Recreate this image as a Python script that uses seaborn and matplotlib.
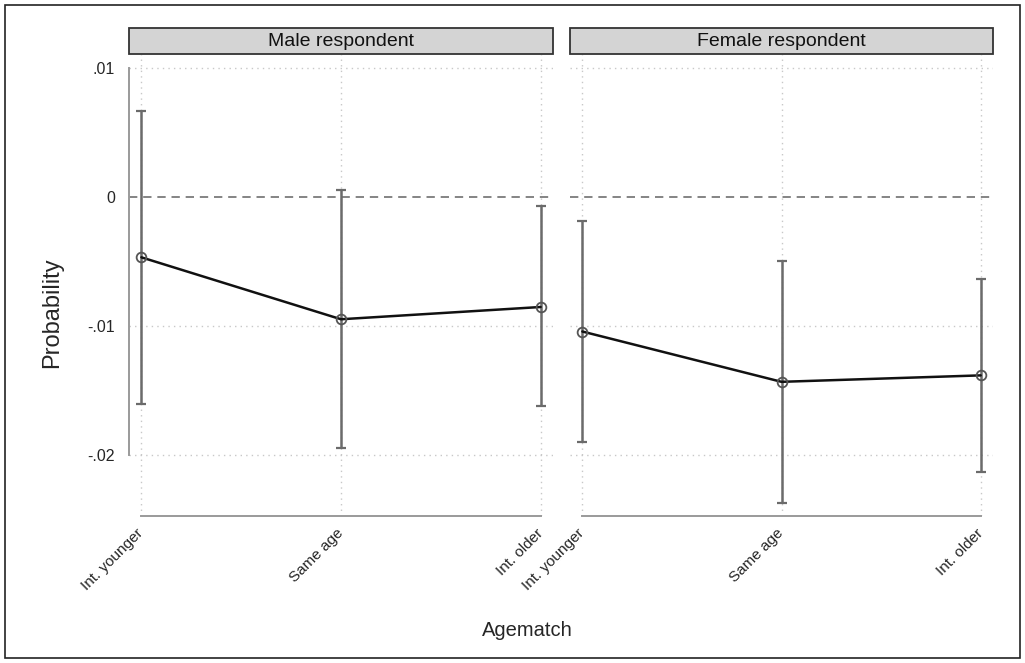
import numpy as np
import pandas as pd
import seaborn as sns
import matplotlib.pyplot as plt
from matplotlib.patches import Rectangle

# values (marginsplot style)
categories = ["Int. younger", "Same age", "Int. older"]
panels = ["Male respondent", "Female respondent"]

male_est = [-0.00465, -0.00945, -0.0085]
male_lo = [-0.0160, -0.0194, -0.0162]
male_hi = [0.0067, 0.0006, -0.0007]

female_est = [-0.0104, -0.0143, -0.0138]
female_lo = [-0.0190, -0.0237, -0.0213]
female_hi = [-0.0018, -0.0049, -0.0063]

yticks = [0.01, 0.0, -0.01, -0.02]
ytick_labels = [".01", "0", "-.01", "-.02"]

rows = []
for panel, est, lo, hi in [(panels[0], male_est, male_lo, male_hi),
                           (panels[1], female_est, female_lo, female_hi)]:
    for i, cat in enumerate(categories):
        rows.append({"panel": panel, "agematch": cat, "pos": i,
                     "est": est[i], "lo": lo[i], "hi": hi[i]})
df = pd.DataFrame(rows)

sns.set_style("white")
plt.rcParams["font.family"] = ["Liberation Sans", "DejaVu Sans"]

W, H = 1025, 663
fig = plt.figure(figsize=(W / 100, H / 100), dpi=100)

# outer frame round the whole graph
fig.patches.append(Rectangle((5 / W, 5 / H), 1015 / W, 653 / H, transform=fig.transFigure,
                             fill=False, edgecolor="#222222", linewidth=1.2))

ax_bottom = (H - 516) / H
ax_height = 462 / H
ylim = (-0.0247, 0.01111)
xlim = (-0.062, 2.062)

lefts = [129, 570]
widths = [424, 423]
grid_col = "#c8c8c8"
axis_col = "#9a9a9a"

for k, panel in enumerate(panels):
    ax = fig.add_axes([lefts[k] / W, ax_bottom, widths[k] / W, ax_height])
    sub = df[df["panel"] == panel]

    ax.set_xlim(xlim)
    ax.set_ylim(ylim)

    # grid and zero reference line
    for yv in yticks:
        if yv != 0:
            ax.axhline(yv, color=grid_col, linestyle=(0, (1, 3)), linewidth=1.0, zorder=0)
    for xv in sub["pos"]:
        ax.axvline(xv, color=grid_col, linestyle=(0, (1, 3)), linewidth=1.0, zorder=0)
    ax.axhline(0, color="#707070", linestyle=(0, (5, 3.5)), linewidth=1.2, zorder=1)

    # confidence intervals
    ax.errorbar(sub["pos"], sub["est"],
                yerr=[sub["est"] - sub["lo"], sub["hi"] - sub["est"]],
                fmt="none", ecolor="#6b6b6b", elinewidth=1.8, capsize=3.5,
                capthick=1.6, zorder=2)

    sns.lineplot(data=sub, x="pos", y="est", ax=ax, color="#111111", linewidth=1.8,
                 marker="o", markersize=7, markerfacecolor="none",
                 markeredgecolor="#555555", markeredgewidth=1.3, zorder=3)

    ax.set_xticks(list(sub["pos"]))
    ax.set_xticklabels(categories, rotation=45, ha="right", va="center",
                       rotation_mode="anchor", fontsize=11)
    ax.set_xlabel("")
    ax.set_ylabel("")

    for s in ["top", "right"]:
        ax.spines[s].set_visible(False)
    ax.spines["bottom"].set_color(axis_col)
    ax.spines["bottom"].set_linewidth(1.4)
    ax.spines["bottom"].set_bounds(0, 2)
    ax.tick_params(axis="x", length=5, width=1.2, color=axis_col, pad=6)

    if k == 0:
        ax.set_yticks(yticks)
        ax.set_yticklabels(ytick_labels, fontsize=11.5)
        ax.spines["left"].set_color(axis_col)
        ax.spines["left"].set_linewidth(1.4)
        ax.spines["left"].set_bounds(-0.02, 0.01)
        ax.tick_params(axis="y", length=6, width=1.2, color=axis_col, pad=4)
    else:
        ax.set_yticks([])
        ax.spines["left"].set_visible(False)

    # strip title
    sh = 26 / 462
    ax.add_patch(Rectangle((0, 1.0), 1, sh, transform=ax.transAxes, clip_on=False,
                           facecolor="#d4d4d4", edgecolor="#333333", linewidth=1.3))
    ax.text(0.5, 1.0 + sh / 2, panel, transform=ax.transAxes, ha="center",
            va="center", fontsize=14, color="#111111")

fig.text(52 / W, 1 - 313 / H, "Probability", rotation=90, ha="center", va="center",
         fontsize=17)
fig.text(527 / W, 1 - 630 / H, "Agematch", ha="center", va="center", fontsize=14.5)

fig.savefig("out.png", dpi=100)
